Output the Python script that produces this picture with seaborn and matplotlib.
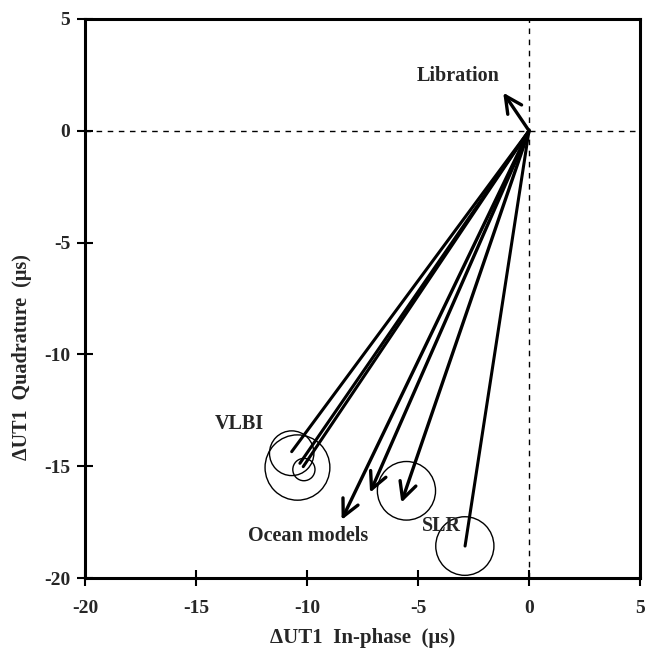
import matplotlib
matplotlib.use("Agg")
import matplotlib.pyplot as plt
from matplotlib.patches import Circle
import seaborn as sns
import pandas as pd

# Tidal UT1 phasors (microseconds): in-phase, quadrature
model_x = [-8.44, -7.16, -5.75]
model_y = [-17.40, -16.18, -16.63]

obs_x = [-10.69, -10.32, -10.17, -2.88]
obs_y = [-14.35, -14.87, -15.02, -18.57]

libration_x = [-1.16]
libration_y = [1.70]

# Error circles: centre x, centre y, radius
circle_x = [-10.69, -10.43, -10.14, -5.52, -2.89]
circle_y = [-14.42, -15.06, -15.15, -16.10, -18.57]
circle_r = [1.00, 1.46, 0.50, 1.31, 1.31]

ticks = [-20, -15, -10, -5, 0, 5]

sns.set_theme(style="ticks")
plt.rcParams["font.family"] = ["Liberation Serif", "DejaVu Serif"]
plt.rcParams["font.weight"] = "bold"
plt.rcParams["axes.unicode_minus"] = False

fig = plt.figure(figsize=(6.46, 6.48), dpi=100)
ax = fig.add_axes([0.1316, 0.108, 0.8591, 0.8628])

# observation vectors drawn as plain lines from the origin
segs = []
for i, (x, y) in enumerate(zip(obs_x, obs_y)):
    segs.append({"x": 0.0, "y": 0.0, "id": i})
    segs.append({"x": x, "y": y, "id": i})
df = pd.DataFrame(segs)
sns.lineplot(data=df, x="x", y="y", units="id", estimator=None, sort=False,
             color="black", lw=2.2, ax=ax, legend=False)

# model vectors with open arrowheads
arrow_kw = dict(arrowstyle="->,head_length=1.0,head_width=0.5",
                color="black", lw=2.4, shrinkA=0, shrinkB=0)
for x, y in zip(model_x + libration_x, model_y + libration_y):
    ax.annotate("", xy=(x, y), xytext=(0, 0), arrowprops=arrow_kw)

for x, y, r in zip(circle_x, circle_y, circle_r):
    ax.add_patch(Circle((x, y), r, fill=False, ec="black", lw=1.0))

ax.axhline(0, color="black", lw=1.0, ls=(0, (4, 4)), zorder=0)
ax.axvline(0, color="black", lw=1.0, ls=(0, (4, 4)), zorder=0)

ax.text(-3.2, 2.45, "Libration", ha="center", va="center", fontsize=14.5, fontweight="bold")
ax.text(-13.05, -13.1, "VLBI", ha="center", va="center", fontsize=14.5)
ax.text(-9.95, -18.1, "Ocean models", ha="center", va="center", fontsize=14.5)
ax.text(-3.95, -17.67, "SLR", ha="center", va="center", fontsize=14.5)

ax.set_xlim(-20, 5)
ax.set_ylim(-20, 5)
ax.set_xticks(ticks)
ax.set_yticks(ticks)
ax.set_xlabel("ΔUT1  In-phase  (μs)", fontsize=15, fontweight="bold", labelpad=8)
ax.set_ylabel("ΔUT1  Quadrature  (μs)", fontsize=14.5, fontweight="bold")
ax.yaxis.set_label_coords(-0.095, 0.395)
ax.tick_params(direction="inout", length=11, width=1.5, labelsize=14, color="black")
ax.tick_params(axis="x", pad=10)
ax.tick_params(axis="y", pad=5)
for lab in ax.get_xticklabels() + ax.get_yticklabels():
    lab.set_fontweight("bold")
for s in ax.spines.values():
    s.set_linewidth(2.2)
    s.set_color("black")
ax.set_facecolor("white")
fig.patch.set_facecolor("white")

fig.savefig("out.png", dpi=100)
